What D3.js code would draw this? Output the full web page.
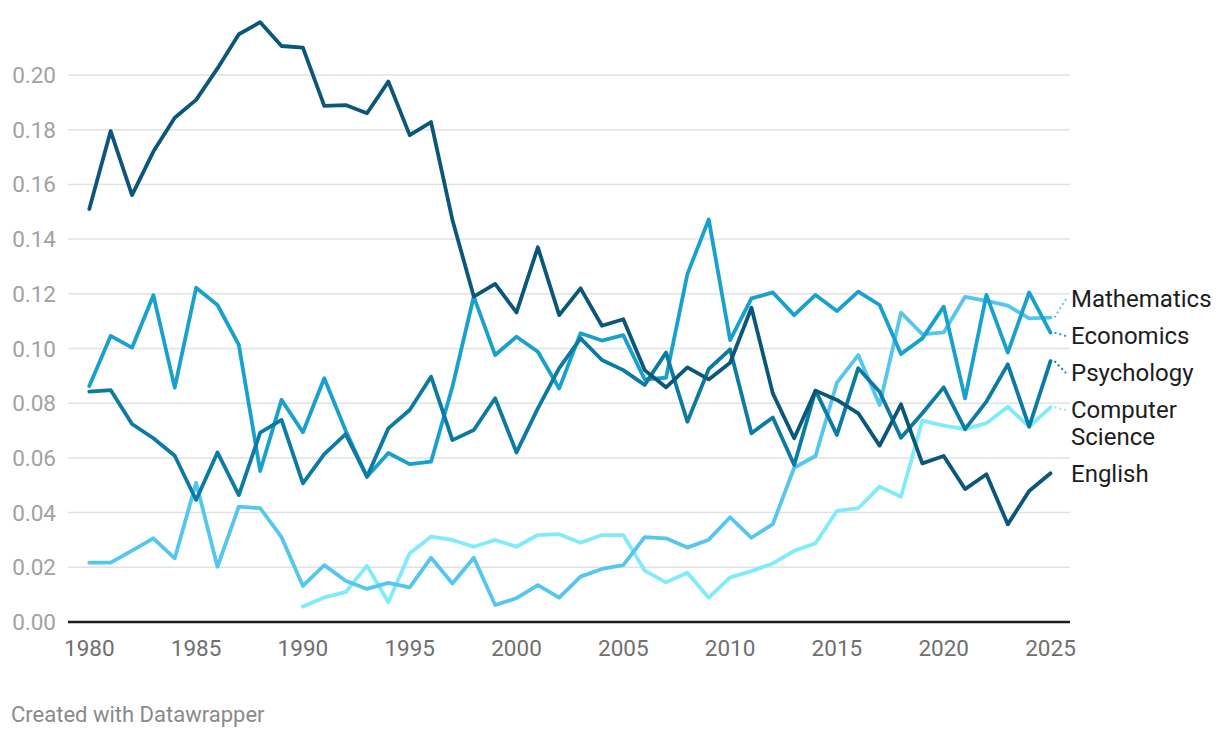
<!DOCTYPE html>
<html>
<head>
<meta charset="utf-8">
<script src="https://cdn.jsdelivr.net/npm/d3@7"></script>
<style>
  body { margin: 0; background: #fff; }
  svg text { font-family: Roboto, "Noto Sans", sans-serif; }
</style>
</head>
<body>
<svg id="chart" width="1220" height="738"></svg>
<script>
// years on the x axis
const years = [1980, 1981, 1982, 1983, 1984, 1985, 1986, 1987, 1988, 1989,
    1990, 1991, 1992, 1993, 1994, 1995, 1996, 1997, 1998, 1999,
    2000, 2001, 2002, 2003, 2004, 2005, 2006, 2007, 2008, 2009,
    2010, 2011, 2012, 2013, 2014, 2015, 2016, 2017, 2018, 2019,
    2020, 2021, 2022, 2023, 2024, 2025];

const english = [0.151, 0.1795, 0.1561, 0.172, 0.1844, 0.1909, 0.2024, 0.2149, 0.2193, 0.2106,
    0.21, 0.1887, 0.189, 0.186, 0.1976, 0.178, 0.1828, 0.147, 0.119, 0.1236,
    0.1132, 0.137, 0.1122, 0.122, 0.1083, 0.1107, 0.0921, 0.0858, 0.0931, 0.0887,
    0.0948, 0.1149, 0.0836, 0.0672, 0.0846, 0.0812, 0.0763, 0.0645, 0.0796, 0.058,
    0.0607, 0.0486, 0.054, 0.0357, 0.0479, 0.0544];

const psychology = [0.0842, 0.0848, 0.0724, 0.0672, 0.0608, 0.0446, 0.062, 0.0464, 0.0692, 0.0739,
    0.0507, 0.0614, 0.0687, 0.0531, 0.0708, 0.0775, 0.0897, 0.0665, 0.0702, 0.0818,
    0.062, 0.0781, 0.0928, 0.1037, 0.0958, 0.0921, 0.0867, 0.0985, 0.0732, 0.0925,
    0.0997, 0.069, 0.0748, 0.0574, 0.0846, 0.0684, 0.0928, 0.0842, 0.0674, 0.0763,
    0.0858, 0.0705, 0.0806, 0.0942, 0.0714, 0.0954];

const economics = [0.0863, 0.1046, 0.1003, 0.1195, 0.0857, 0.1222, 0.1159, 0.1013, 0.0552, 0.0812,
    0.0694, 0.0891, 0.07, 0.0531, 0.0618, 0.0577, 0.0586, 0.086, 0.119, 0.0976,
    0.1043, 0.0988, 0.0854, 0.1056, 0.1029, 0.1049, 0.0887, 0.0893, 0.1272, 0.1472,
    0.1031, 0.1183, 0.1205, 0.1122, 0.1196, 0.1137, 0.1208, 0.1159, 0.098, 0.1037,
    0.1153, 0.0818, 0.1196, 0.0985, 0.1205, 0.1058];

const mathematics = [0.0217, 0.0217, 0.0261, 0.0306, 0.0233, 0.0509, 0.0202, 0.0422, 0.0416, 0.031,
    0.0132, 0.0208, 0.0151, 0.0121, 0.0143, 0.0127, 0.0235, 0.0141, 0.0235, 0.0062,
    0.0087, 0.0135, 0.0089, 0.0166, 0.0194, 0.0208, 0.031, 0.0306, 0.0272, 0.0301,
    0.0383, 0.0308, 0.0358, 0.0564, 0.0607, 0.0875, 0.0976, 0.0793, 0.1131, 0.1052,
    0.1059, 0.1189, 0.1174, 0.1157, 0.111, 0.1113];

const computerScience = [null, null, null, null, null, null, null, null, null, null,
    0.0057, 0.009, 0.0109, 0.0206, 0.0072, 0.0251, 0.0312, 0.03, 0.0275, 0.03,
    0.0275, 0.0318, 0.0321, 0.029, 0.0318, 0.0318, 0.0188, 0.0145, 0.018, 0.0089,
    0.0163, 0.0186, 0.0214, 0.026, 0.0288, 0.0406, 0.0416, 0.0495, 0.0458, 0.0736,
    0.0718, 0.0705, 0.0727, 0.0787, 0.0714, 0.0785];

const seriesNames = ['Computer Science', 'Mathematics', 'Economics', 'Psychology', 'English'];
const seriesValues = [computerScience, mathematics, economics, psychology, english];
const seriesColors = ['#80ebfb', '#55c7ef', '#18a1cd', '#0b7ba3', '#0b5779'];

const yTicks = [0, 0.02, 0.04, 0.06, 0.08, 0.10, 0.12, 0.14, 0.16, 0.18, 0.20];
const xTicks = [1980, 1985, 1990, 1995, 2000, 2005, 2010, 2015, 2020, 2025];

const svg = d3.select('#chart');

const x = d3.scaleLinear().domain([1980, 2025]).range([89.3, 1050.5]);
const y = d3.scaleLinear().domain([0, 0.2]).range([622, 75]);

const gridLeft = 68;
const gridRight = 1070;

// Grid
svg.append('g')
    .selectAll('line')
    .data(yTicks.filter(d => d > 0))
    .enter()
    .append('line')
    .attr('x1', gridLeft)
    .attr('x2', gridRight)
    .attr('y1', d => y(d))
    .attr('y2', d => y(d))
    .attr('stroke', '#e2e2e2')
    .attr('stroke-width', 1.5);

// y labels
svg.append('g')
    .selectAll('text')
    .data(yTicks)
    .enter()
    .append('text')
    .attr('x', 56)
    .attr('y', d => y(d) + 8)
    .attr('text-anchor', 'end')
    .attr('font-size', 22.5)
    .attr('fill', '#a2a2a2')
    .text(d => d3.format('.2f')(d));

// x labels
svg.append('g')
    .selectAll('text')
    .data(xTicks)
    .enter()
    .append('text')
    .attr('x', d => x(d))
    .attr('y', 656)
    .attr('text-anchor', 'middle')
    .attr('font-size', 22.5)
    .attr('fill', '#6f6f6f')
    .text(d => d);

// baseline
svg.append('line')
    .attr('x1', gridLeft)
    .attr('x2', gridRight)
    .attr('y1', y(0))
    .attr('y2', y(0))
    .attr('stroke', '#1c1c1c')
    .attr('stroke-width', 2.6);

// Lines
const line = d3.line()
    .defined(d => d.v != null)
    .x(d => x(d.year))
    .y(d => y(d.v));

const series = seriesNames.map((name, i) => ({
    name: name,
    color: seriesColors[i],
    points: years.map((year, j) => ({year: year, v: seriesValues[i][j]}))
}));

svg.append('g')
    .selectAll('path')
    .data(series)
    .enter()
    .append('path')
    .attr('d', d => line(d.points))
    .attr('fill', 'none')
    .attr('stroke', d => d.color)
    .attr('stroke-width', 3.8)
    .attr('stroke-linejoin', 'round')
    .attr('stroke-linecap', 'round');

// Labels at the line ends, pushed apart where they would overlap
const lineH = 27;
const pad = 10;
const labels = series.map(s => {
    const last = s.points[s.points.length - 1];
    const lines = s.name === 'Computer Science' ? ['Computer', 'Science'] : [s.name];
    const h = lines.length * lineH + pad;
    const ey = y(last.v);
    return {s: s, lines: lines, h: h, ey: ey, want: ey + (lines.length - 1) * lineH / 2};
}).sort((a, b) => a.want - b.want);

let blocks = labels.map(l => ({items: [l], top: l.want - l.h / 2, size: l.h}));
let merged = true;
while (merged) {
    merged = false;
    for (let i = 0; i < blocks.length - 1; i++) {
        const a = blocks[i], b = blocks[i + 1];
        if (a.top + a.size > b.top) {
            const items = a.items.concat(b.items);
            let off = 0;
            const shifts = items.map(it => {
                const s = it.want - it.h / 2 - off;
                off += it.h;
                return s;
            });
            blocks.splice(i, 2, {items: items, top: d3.mean(shifts), size: off});
            merged = true;
            break;
        }
    }
}
blocks.forEach(b => {
    let t = b.top;
    b.items.forEach(it => {
        it.cy = t + it.h / 2;
        t += it.h;
    });
});

const labelX = 1071;
const lg = svg.append('g');
labels.forEach(l => {
    const firstY = l.cy - (l.lines.length - 1) * lineH / 2;
    if (Math.abs(firstY - l.ey) > 1.2) {
        lg.append('line')
            .attr('x1', x(2025) + 4)
            .attr('y1', l.ey)
            .attr('x2', labelX - 5)
            .attr('y2', firstY)
            .attr('stroke', l.s.color)
            .attr('stroke-width', 2)
            .attr('stroke-dasharray', '2,3');
    }
    const t = lg.append('text')
        .attr('x', labelX)
        .attr('y', firstY + 8.5)
        .attr('font-size', 24)
        .attr('fill', '#1d1d1d');
    l.lines.forEach((txt, k) => {
        t.append('tspan')
            .attr('x', labelX)
            .attr('dy', k === 0 ? 0 : lineH)
            .text(txt);
    });
});

svg.append('text')
    .attr('x', 11)
    .attr('y', 722)
    .attr('font-size', 22)
    .attr('fill', '#8a8a8a')
    .text('Created with Datawrapper');
</script>
</body>
</html>
